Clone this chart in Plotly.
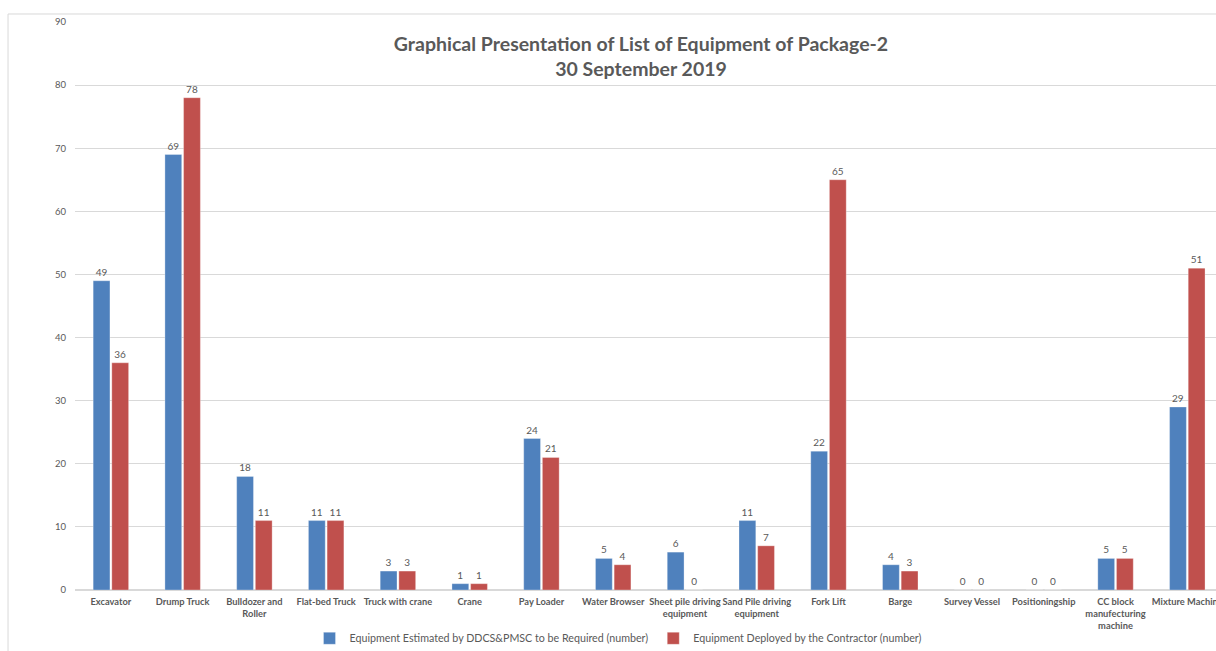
import plotly.graph_objects as go

categories = ["Excavator", "Drump Truck", "Bulldozer and<br>Roller", "Flat-bed Truck",
              "Truck with crane", "Crane", "Pay Loader", "Water Browser",
              "Sheet pile driving<br>equipment", "Sand Pile driving<br>equipment",
              "Fork Lift", "Barge", "Survey Vessel", "Positioningship",
              "CC block<br>manufecturing<br>machine", "Mixture Machine"]
estimated = [49, 69, 18, 11, 3, 1, 24, 5, 6, 11, 22, 4, 0, 0, 5, 29]
deployed = [36, 78, 11, 11, 3, 1, 21, 4, 0, 7, 65, 3, 0, 0, 5, 51]
series_names = ["Equipment Estimated by DDCS&PMSC to be Required (number)",
                "Equipment Deployed by the Contractor (number)"]
y_ticks = [0, 10, 20, 30, 40, 50, 60, 70, 80, 90]

FONT = "Lato, Liberation Sans, sans-serif"
TXT = "#595959"

fig = go.Figure()
for name, vals, col in [(series_names[0], estimated, "#4F81BD"),
                        (series_names[1], deployed, "#C0504D")]:
    fig.add_trace(go.Bar(
        x=categories, y=vals, name=name,
        marker=dict(color=col, line=dict(color="rgba(255,255,255,0.6)", width=0.5)),
        text=[str(v) for v in vals], textposition="outside",
        textfont=dict(size=10, color=TXT, family=FONT),
        constraintext="none", cliponaxis=False,
    ))

fig.update_layout(
    width=1216, height=651,
    margin=dict(l=75, r=0, t=22, b=61, autoexpand=False),
    paper_bgcolor="white", plot_bgcolor="white",
    barmode="group", bargap=0.48, bargroupgap=0.1,
    font=dict(family=FONT, color=TXT),
    title=dict(text="Graphical Presentation of List of Equipment of Package-2<br>30 September 2019",
               x=641/1216, xanchor="center", xref="container",
               y=1 - 50.5/651, yanchor="middle", yref="container",
               font=dict(size=19.5, color=TXT, family=FONT, weight="bold")),
    xaxis=dict(range=[-0.5, 15.4], showgrid=False, showline=False, ticks="", tickangle=0,
               automargin=False, ticklabelstandoff=5,
               tickfont=dict(size=9.3, color=TXT, family=FONT, weight="bold")),
    yaxis=dict(range=[0, 90], tickvals=y_ticks, showgrid=True, gridcolor="#d9d9d9",
               gridwidth=1, zeroline=True, zerolinecolor="#d9d9d9", showline=False,
               automargin=False,
               ticks="", tickfont=dict(size=9.5, color=TXT, family=FONT), ticklabelstandoff=8),
    legend=dict(orientation="h", x=(618 - 75) / 1141, xanchor="center",
                y=-0.085, yanchor="middle", font=dict(size=10.7, color=TXT, family=FONT),
                itemwidth=30, traceorder="normal"),
    showlegend=True,
)
fig.add_shape(type="line", xref="paper", yref="paper", x0=-0.0587, x1=1.01, y0=1.0141, y1=1.0141,
              line=dict(color="#d9d9d9", width=1))
fig.add_shape(type="line", xref="paper", yref="paper", x0=-0.0587, x1=-0.0587, y0=1.0141, y1=-0.2,
              line=dict(color="#d9d9d9", width=1))
fig.write_html("out.html", config={"displayModeBar": False},
               post_script="document.body.style.margin='0';")
